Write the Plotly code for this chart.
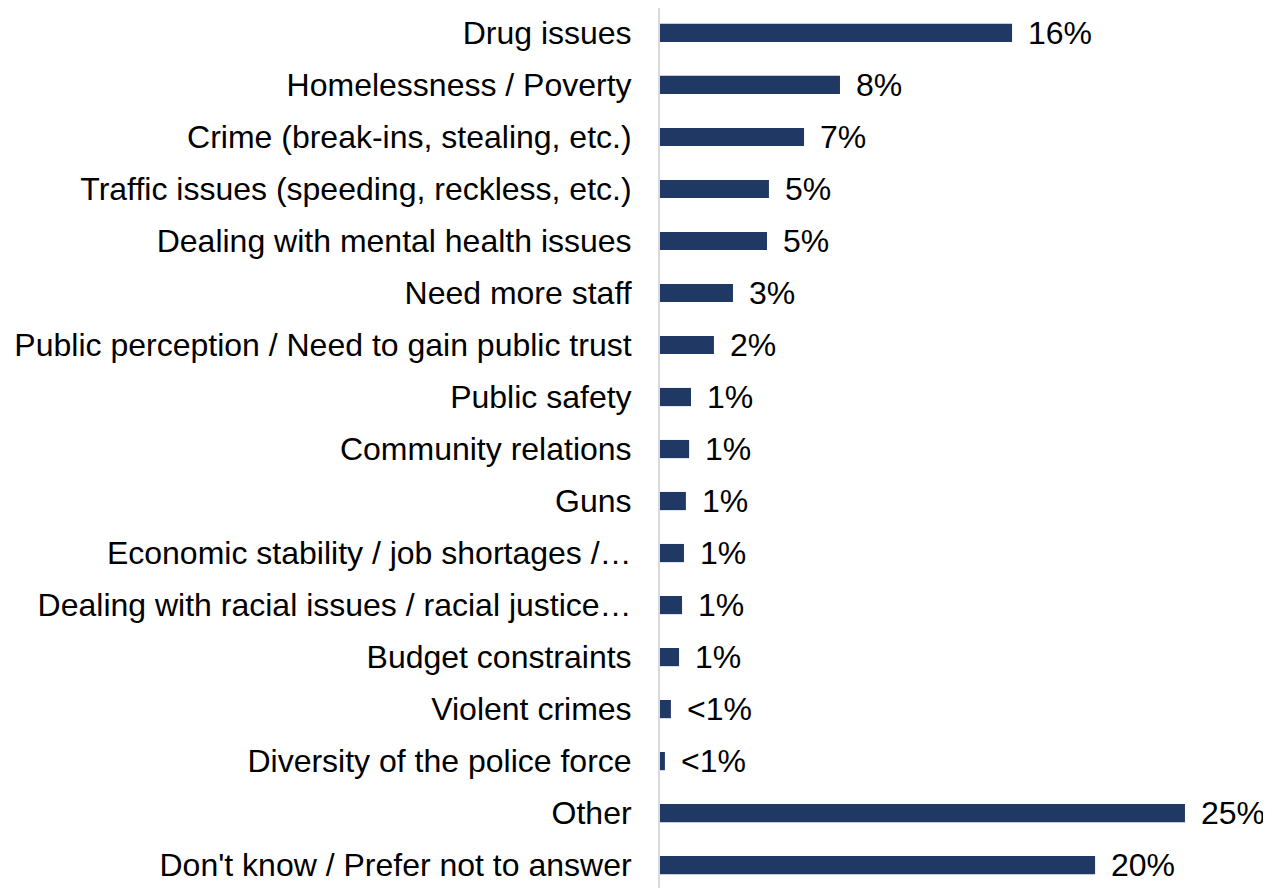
import plotly.graph_objects as go

categories = [
    "Drug issues",
    "Homelessness / Poverty",
    "Crime (break-ins, stealing, etc.)",
    "Traffic issues (speeding, reckless, etc.)",
    "Dealing with mental health issues",
    "Need more staff",
    "Public perception / Need to gain public trust",
    "Public safety",
    "Community relations",
    "Guns",
    "Economic stability / job shortages /…",
    "Dealing with racial issues / racial justice…",
    "Budget constraints",
    "Violent crimes",
    "Diversity of the police force",
    "Other",
    "Don't know / Prefer not to answer",
]
values = [16.45, 8.41, 6.73, 5.09, 5.0, 3.41, 2.52, 1.45, 1.36, 1.21, 1.12, 1.03, 0.89, 0.51, 0.23, 24.53, 20.33]
value_labels = ["16%", "8%", "7%", "5%", "5%", "3%", "2%", "1%", "1%", "1%", "1%", "1%", "1%",
                "<1%", "<1%", "25%", "20%"]

FONT = "Liberation Sans, Arial, sans-serif"
FS = 32

fig = go.Figure(go.Bar(
    y=categories,
    x=values,
    orientation="h",
    marker=dict(color="#1F3864", line=dict(width=0)),
    hoverinfo="skip",
))

for c, v, t in zip(categories, values, value_labels):
    fig.add_annotation(x=v, y=c, text=t, showarrow=False, xanchor="left",
                       xshift=14, font=dict(family=FONT, size=FS, color="#000000"))

fig.update_layout(
    width=1263, height=880,
    margin=dict(l=652, r=0, t=0, b=0),
    paper_bgcolor="white", plot_bgcolor="white",
    bargap=0.65,
    showlegend=False,
    font=dict(family=FONT, size=FS, color="#000000"),
)
fig.update_xaxes(range=[0, 28.55], showgrid=False, zeroline=False, showticklabels=False,
                 showline=False, fixedrange=True)
fig.update_yaxes(range=[16.44, -0.48], showgrid=False, zeroline=False,
                 showline=True, linecolor="#D9D9D9", linewidth=2,
                 ticks="outside", ticklen=20, tickcolor="rgba(0,0,0,0)",
                 tickfont=dict(family=FONT, size=FS, color="#000000"),
                 automargin=False)

fig.write_html("out.html")
